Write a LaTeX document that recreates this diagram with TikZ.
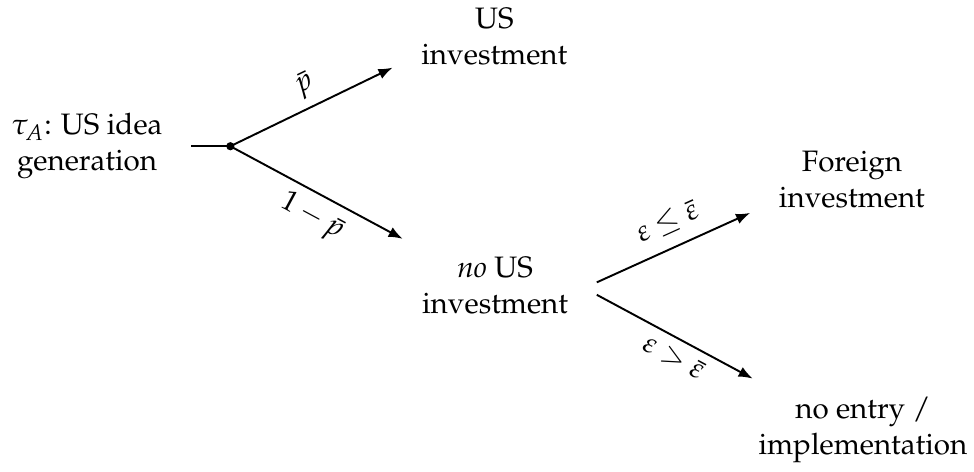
\documentclass[tikz,border=0pt]{standalone}
\usepackage[T1]{fontenc}
\usepackage{mathpazo}
\usetikzlibrary{arrows.meta}

\begin{document}
\begin{tikzpicture}[
  font=\fontsize{11.5}{14}\selectfont,
  state/.style={align=center, inner xsep=11pt, inner ysep=7pt},
  branch/.style={-{Latex[length=5.5pt, width=4.2pt]}, line width=0.75pt},
  prob/.style={sloped, midway},
]
\useasboundingbox (0,0) rectangle (13.32,6.45);
\node[state] (root) at (1.19,4.45) {$\tau_A$: US idea\\generation};
\coordinate (split) at (3.15,4.45);
\node[state] (usinv) at (6.76,5.95) {US\\investment};
\node[state] (nous) at (6.77,2.54) {\textit{no} US\\investment};
\node[state] (foreign) at (11.65,3.99) {Foreign\\investment};
\node[state] (noentry) at (11.80,0.57) {no entry /\\implementation};
\draw[line width=0.75pt] (root) -- (split);
\fill (split) circle (1.6pt);
\draw[branch] (split) -- node[prob, above, pos=0.52] {$\bar{p}$} (usinv.197);
\draw[branch] (split) -- node[prob, below, pos=0.54] {$1-\bar{p}$} (nous.153);
\draw[branch] (nous.2) -- node[prob, above, pos=0.53, yshift=1.5pt]
  {$\varepsilon\leq\bar{\varepsilon}$} (foreign.198);
\draw[branch] (nous.-5) -- node[prob, below, pos=0.55]
  {$\varepsilon>\bar{\varepsilon}$} (noentry.155);
\end{tikzpicture}
\end{document}
